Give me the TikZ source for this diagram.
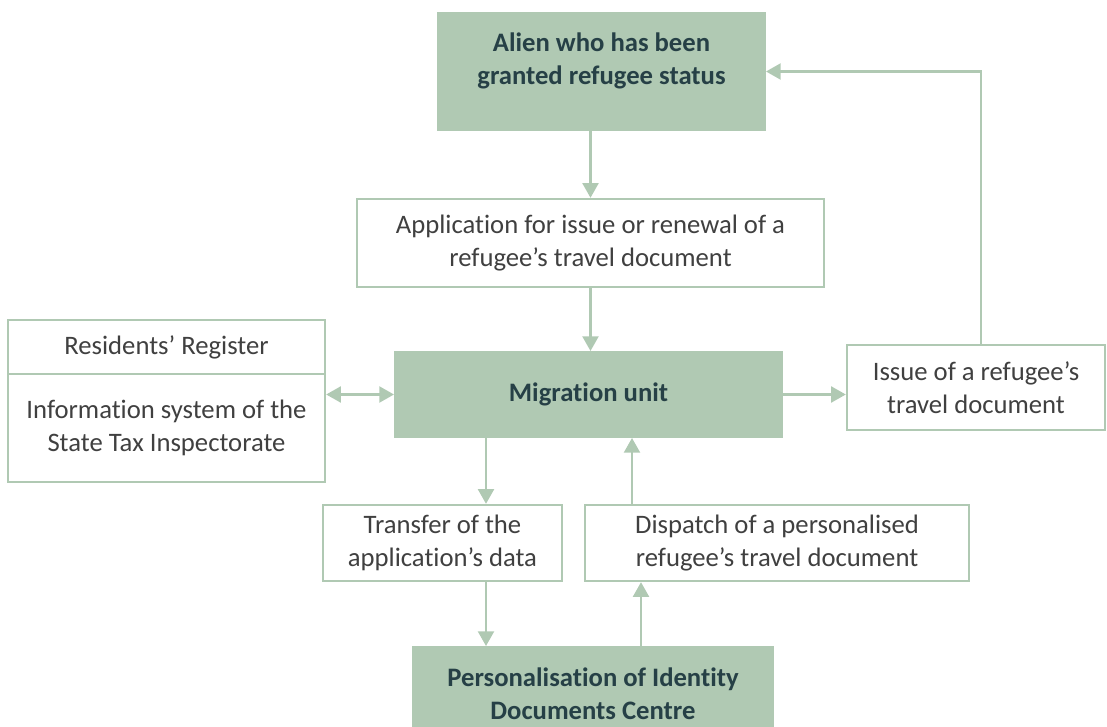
\documentclass[tikz,border=0pt]{standalone}
\usepackage{fontspec}
\setmainfont{Carlito}[Ligatures=NoCommon]
\usetikzlibrary{arrows.meta, calc}
\definecolor{boxgreen}{RGB}{176, 201, 179}
\definecolor{darkteal}{RGB}{38, 64, 70}
\definecolor{textgray}{RGB}{64, 64, 64}
\tikzset{
  keybox/.style   = {rectangle, draw=boxgreen, fill=boxgreen, line width=1.5pt, align=center, inner sep=0pt, text=darkteal, font=\bfseries\fontsize{20}{24.75}\selectfont},
  stepbox/.style  = {rectangle, draw=boxgreen, fill=white, line width=1.8pt, align=center, inner sep=0pt, text=textgray, font=\fontsize{20}{24.75}\selectfont},
  flow/.style     = {-{Triangle[length=11pt, width=12pt]}, line width=1.6pt, boxgreen},
  flowboth/.style = {{Triangle[length=11pt, width=12pt]}-{Triangle[length=11pt, width=12pt]}, line width=1.6pt, boxgreen},
}

\begin{document}
\begin{tikzpicture}[x=0.75pt, y=-0.75pt]

\useasboundingbox (0,0) rectangle (1107,727);

% main chain
\node[keybox, minimum width=245.25pt, minimum height=87.75pt] (alien) at (601.5,71.5) {Alien who has been\\granted refugee status\\[-5pt]\mbox{}};
\node[stepbox, minimum width=350.25pt, minimum height=66pt] (app) at (590.5,243) {Application for issue or renewal of a\\refugee’s travel document};
\node[keybox, minimum width=290.25pt, minimum height=63.75pt] (mig) at (588.5,394.5) {Migration unit};

% registers on the left
\node[stepbox, minimum width=237.75pt, minimum height=40.5pt] (reg) at (166.5,347) {Residents’ Register};
\node[stepbox, minimum width=237.75pt, minimum height=81pt] (info) at (166.5,428) {Information system of the\\State Tax Inspectorate};

% issue on the right
\node[stepbox, minimum width=193.5pt, minimum height=63.75pt] (issue) at (976,387.5) {Issue of a refugee’s\\travel document};

% lower part
\node[stepbox, minimum width=179.25pt, minimum height=57pt] (transfer) at (442.5,543) {Transfer of the\\application’s data};
\node[stepbox, minimum width=288pt, minimum height=57pt] (dispatch) at (777,543) {Dispatch of a personalised\\refugee’s travel document};
\node[keybox, minimum width=270pt, minimum height=69.75pt] (pers) at (593,693.5) {Personalisation of Identity\\Documents Centre};

% connector points
\coordinate (tIn) at ($(transfer.north)+(43.5,0)$);
\coordinate (tOut) at ($(transfer.south)+(43.5,0)$);
\coordinate (dIn) at ($(dispatch.south)+(-136,0)$);
\coordinate (dOut) at ($(dispatch.north)+(-145,0)$);

% arrows
\draw[flow] (app.north |- alien.south) -- (app.north);
\draw[flow] (app.south) -- (app.south |- mig.north);
\draw[flowboth] (mig.west -| info.east) -- (mig.west);
\draw[flow] (mig.east) -- (mig.east -| issue.west);
\draw[flow] ($(issue.north)+(5,0)$) |- (alien.east);
\draw[flow] (tIn |- mig.south) -- (tIn);
\draw[flow] (tOut) -- (tOut |- pers.north);
\draw[flow] (dIn |- pers.north) -- (dIn);
\draw[flow] (dOut) -- (dOut |- mig.south);

\end{tikzpicture}
\end{document}
